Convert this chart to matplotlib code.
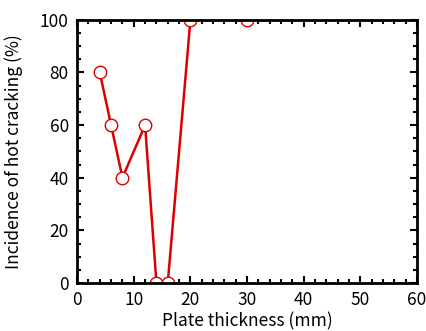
import matplotlib
matplotlib.use("Agg")
import matplotlib.pyplot as plt
from matplotlib.ticker import MultipleLocator

plt.rcParams['font.family'] = ['Noto Sans CJK JP', 'DejaVu Sans']

# ============  data  ============
thickness = [4, 6, 8, 12, 14, 16, 20, 30]
cracking = [80, 60, 40, 60, 0, 0, 100, 100]

# ============  plot  ============
fig = plt.figure(figsize=(4.26, 3.31), dpi=100)
ax = fig.add_axes([0.181, 0.145, 0.798, 0.795])
ax.plot(thickness, cracking, color="#dd0000", lw=1.8, marker="o", ms=9,
        mfc="white", mec="#dd0000", mew=1.0)

ax.set_xlim(0, 60)
ax.set_ylim(0, 100)
ax.xaxis.set_major_locator(MultipleLocator(10))
ax.xaxis.set_minor_locator(MultipleLocator(2))
ax.yaxis.set_major_locator(MultipleLocator(20))
ax.yaxis.set_minor_locator(MultipleLocator(5))
ax.tick_params(which="both", direction="in", top=True, right=True, labelsize=12.5, width=1.5)
ax.tick_params(which="major", length=5, pad=6)
ax.tick_params(which="minor", length=3)
for s in ax.spines.values():
    s.set_linewidth(2)

ax.set_xlabel("Plate thickness (mm)", fontsize=12.5, labelpad=2)
ax.set_ylabel("Incidence of hot cracking (%)", fontsize=12.5, labelpad=12)

fig.savefig("out.png")
